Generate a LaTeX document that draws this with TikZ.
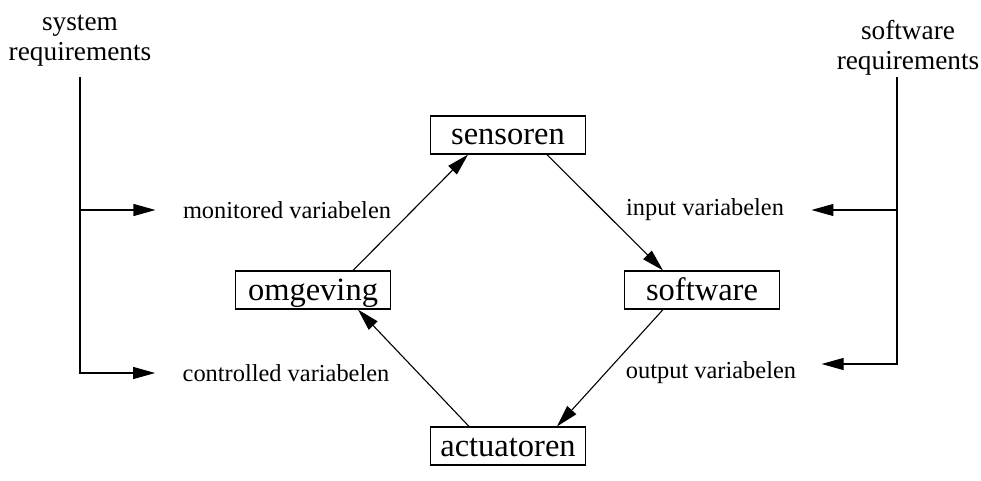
\documentclass[tikz,border=0pt]{standalone}
\usepackage{fontspec}
\setmainfont{Liberation Serif}
\usetikzlibrary{arrows.meta}

\begin{document}
\begin{tikzpicture}[x=1pt,y=-1pt,
  blok/.style={rectangle,draw,line width=1.2pt,minimum width=155pt,
    minimum height=38pt,inner sep=0pt,text height=23pt,text depth=3pt,
    font=\fontsize{32.5}{38}\selectfont},
  lbl/.style={font=\fontsize{24.4}{29}\selectfont},
  req/.style={align=center,font=\fontsize{27.3}{30}\selectfont},
  lijn/.style={line width=1.1pt},
  pijl/.style={lijn,-{Triangle[length=22pt,width=12pt]}}]
  \useasboundingbox (0,0) rectangle (981,481);
  \node[blok] (sensoren) at (508,135) {sensoren};
  \node[blok] (omgeving) at (313,290) {omgeving};
  \node[blok] (software) at (702,290) {software};
  \node[blok] (actuatoren) at (508,446) {actuatoren};
  \node[lbl] (monitored) at (287,210) {monitored variabelen};
  \node[lbl] (input) at (705,210) {input variabelen};
  \node[lbl] (controlled) at (286,373) {controlled variabelen};
  \node[lbl] (output) at (711,373) {output variabelen};
  \node[req] (sysreq) at (80,41) {system\\requirements};
  \node[req] (softreq) at (908,48) {software\\requirements};
  % cyclus
  \draw[pijl] ([xshift=40pt]omgeving.north) -- ([xshift=-40pt]sensoren.south);
  \draw[pijl] ([xshift=39pt]sensoren.south) -- ([xshift=-39pt]software.north);
  \draw[pijl] ([xshift=-39pt]software.south) -- ([xshift=49pt]actuatoren.north);
  \draw[pijl] ([xshift=-39pt]actuatoren.north) -- ([xshift=45pt]omgeving.south);
  % requirements links
  \coordinate (ltop) at (80,77);
  \coordinate (lmid) at (80,210);
  \draw[pijl] (ltop) |- ([xshift=-24pt]controlled.west);
  \draw[pijl] (lmid) -- ([xshift=-24pt]monitored.west);
  % requirements rechts
  \coordinate (rtop) at (897,77);
  \coordinate (rmid) at (897,210);
  \draw[pijl] (rtop) |- ([xshift=22pt,yshift=9pt]output.east);
  \draw[pijl] (rmid) -- ([xshift=24pt]input.east);
\end{tikzpicture}
\end{document}
